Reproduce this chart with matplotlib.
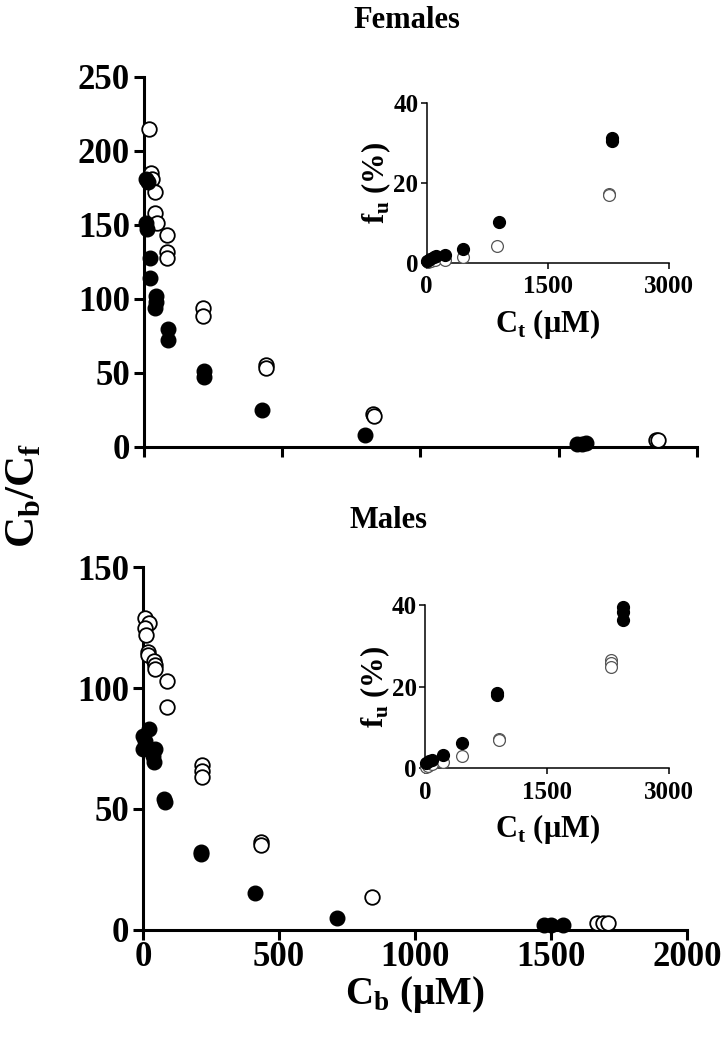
import numpy as np
import matplotlib.pyplot as plt

plt.rcParams['font.family'] = ['Liberation Serif', 'DejaVu Serif']
plt.rcParams['font.weight'] = 'bold'
plt.rcParams['axes.labelweight'] = 'bold'

# Females, main plot: Cb vs Cb/Cf
fem_filled_x = [8, 14, 8, 10, 22, 22, 43, 43, 40, 88, 88, 217, 217, 427, 801, 1565, 1585, 1600]
fem_filled_y = [181, 179, 151, 147, 128, 114, 102, 98, 94, 80, 72, 51, 47, 25, 8, 2, 2, 2.5]
fem_open_x = [19, 24, 28, 40, 40, 46, 82, 82, 82, 212, 212, 440, 440, 828, 833, 1850, 1858]
fem_open_y = [215, 185, 181, 172, 158, 151, 143, 132, 128, 94, 88.5, 55.5, 53.5, 22.5, 21, 5, 4.5]

# Males, main plot
mal_filled_x = [23, 1, 7, 1, 44, 38, 41, 78, 80, 212, 214, 412, 712, 1474, 1500, 1544]
mal_filled_y = [83, 80, 78, 75, 75, 72, 69.5, 54, 53, 32.4, 31.5, 15.4, 4.8, 2, 2, 2]
mal_open_x = [7, 23, 7, 12, 20, 20, 40, 44, 44, 87, 87, 216, 216, 216, 434, 434, 841, 1668, 1692, 1710]
mal_open_y = [129, 127, 125, 122, 115, 113.5, 111, 109.5, 108, 103, 92, 68, 65.7, 63.3, 36.2, 35, 13.5, 3, 3, 3]

# insets: Ct vs fu (%)
fem_in_filled_x = [0, 40, 90, 115, 226, 453, 898, 2292, 2292]
fem_in_filled_y = [0.5, 0.9, 1.5, 1.7, 2.0, 3.4, 10.1, 31.1, 30.5]
fem_in_open_x = [20, 50, 100, 226, 453, 873, 2259, 2259]
fem_in_open_y = [0.3, 0.5, 0.8, 0.7, 1.5, 4.2, 17.3, 17.0]

mal_in_filled_x = [12, 50, 82, 225, 450, 880, 880, 2435, 2435, 2435]
mal_in_filled_y = [1.4, 1.7, 2.0, 3.3, 6.3, 18.5, 18.0, 39.4, 38.4, 36.3]
mal_in_open_x = [10, 40, 90, 225, 450, 913, 913, 2284, 2284, 2284]
mal_in_open_y = [0.3, 0.6, 1.0, 1.6, 2.9, 7.3, 7.0, 26.5, 25.7, 24.8]

main_xticks = [0, 500, 1000, 1500, 2000]
inset_xticks = [0, 1500, 3000]
inset_yticks = [0, 20, 40]

fig = plt.figure(figsize=(7.21, 10.37), dpi=100)


def style_main(ax, yticks, ylim, show_xlabels):
    for s in ['top', 'right']:
        ax.spines[s].set_visible(False)
    for s in ['left', 'bottom']:
        ax.spines[s].set_linewidth(2.2)
    ax.set_xlim(0, 2000)
    ax.set_ylim(*ylim)
    ax.set_xticks(main_xticks)
    ax.set_yticks(yticks)
    ax.tick_params(width=2.2, length=7, labelsize=25)
    ax.tick_params(axis='x', pad=1)
    ax.tick_params(axis='y', pad=3)
    if not show_xlabels:
        ax.set_xticklabels([])


def style_inset(ax):
    for s in ['top', 'right']:
        ax.spines[s].set_visible(False)
    for s in ['left', 'bottom']:
        ax.spines[s].set_linewidth(1.1)
    ax.set_xlim(0, 3000)
    ax.set_ylim(0, 40)
    ax.set_xticks(inset_xticks)
    ax.set_yticks(inset_yticks)
    ax.tick_params(width=1.1, length=4, labelsize=18)
    ax.tick_params(axis='x', pad=5)
    ax.tick_params(axis='y', pad=2)
    ax.patch.set_alpha(0)


def draw_main(ax, fx, fy, ox, oy):
    ax.plot(ox, oy, 'o', ms=10.5, mfc='white', mec='black', mew=1.3, clip_on=False, zorder=3)
    ax.plot(fx, fy, 'o', ms=10.5, mfc='black', mec='black', clip_on=False, zorder=4)


def draw_inset(ax, fx, fy, ox, oy):
    ax.plot(ox, oy, 'o', ms=8.5, mfc='white', mec='#555555', mew=0.9, clip_on=False, zorder=3)
    ax.plot(fx, fy, 'o', ms=8.5, mfc='black', mec='black', clip_on=False, zorder=4)


# Females
ax1 = fig.add_axes([0.1997, 0.569, 0.767, 0.3568])
style_main(ax1, [0, 50, 100, 150, 200, 250], (0, 250), False)
draw_main(ax1, fem_filled_x, fem_filled_y, fem_open_x, fem_open_y)

ins1 = fig.add_axes([0.5918, 0.7466, 0.3365, 0.1543])
style_inset(ins1)
draw_inset(ins1, fem_in_filled_x, fem_in_filled_y, fem_in_open_x, fem_in_open_y)
ins1.set_xlabel(r'C$_\mathregular{t}$ (μM)', fontsize=22, fontweight='bold', labelpad=6)
ins1.set_ylabel(r'f$_\mathregular{u}$ (%)', fontsize=22, fontweight='bold', labelpad=0)

# Males
ax2 = fig.add_axes([0.1983, 0.1032, 0.7545, 0.35])
style_main(ax2, [0, 50, 100, 150], (0, 150), True)
draw_main(ax2, mal_filled_x, mal_filled_y, mal_open_x, mal_open_y)
ax2.set_xlabel(r'C$_\mathregular{b}$ (μM)', fontsize=28, fontweight='bold', labelpad=0)

ins2 = fig.add_axes([0.5895, 0.2591, 0.3388, 0.1575])
style_inset(ins2)
draw_inset(ins2, mal_in_filled_x, mal_in_filled_y, mal_in_open_x, mal_in_open_y)
ins2.set_xlabel(r'C$_\mathregular{t}$ (μM)', fontsize=22, fontweight='bold', labelpad=6)
ins2.set_ylabel(r'f$_\mathregular{u}$ (%)', fontsize=22, fontweight='bold', labelpad=0)

fig.text(407 / 721, 1 - 20 / 1037, 'Females', ha='center', va='center', fontsize=22)
fig.text(388 / 721, 1 - 520 / 1037, 'Males', ha='center', va='center', fontsize=22)
fig.text(24 / 721, 1 - 495 / 1037, r'C$_\mathregular{b}$/C$_\mathregular{f}$', rotation=90,
         ha='center', va='center', fontsize=31)

plt.savefig('out.png', dpi=100)
